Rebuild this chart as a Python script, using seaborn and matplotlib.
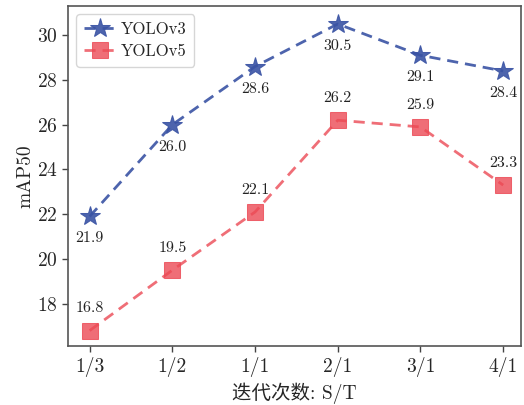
import matplotlib
matplotlib.use("Agg")
import matplotlib.pyplot as plt
import seaborn as sns
import pandas as pd
import numpy as np

ratios = ["1/3", "1/2", "1/1", "2/1", "3/1", "4/1"]
yolov3 = [21.9, 26.0, 28.6, 30.5, 29.1, 28.4]
yolov5 = [16.8, 19.5, 22.1, 26.2, 25.9, 23.3]

sns.set_theme(style="ticks")
plt.rcParams['font.family'] = ['cmr10', 'Noto Sans CJK SC', 'DejaVu Sans']
plt.rcParams['axes.formatter.use_mathtext'] = True
plt.rcParams['mathtext.fontset'] = 'cm'

idx = np.arange(len(ratios))
df = pd.DataFrame({
    "x": np.concatenate([idx, idx]),
    "mAP": yolov3 + yolov5,
    "model": ["YOLOv3"] * len(ratios) + ["YOLOv5"] * len(ratios),
})

fig, ax = plt.subplots(figsize=(5.24, 4.05), dpi=100)
blue = "#3a53a4"
red = "#ec4a55"

sns.lineplot(data=df[df.model == "YOLOv3"], x="x", y="mAP", ax=ax, color=blue,
             linestyle="--", linewidth=2.0, marker="*", markersize=15,
             markeredgecolor=blue, label="YOLOv3", alpha=0.9)
sns.lineplot(data=df[df.model == "YOLOv5"], x="x", y="mAP", ax=ax, color=red,
             linestyle="--", linewidth=2.0, marker="s", markersize=11,
             markeredgecolor=red, label="YOLOv5", alpha=0.8)
for line in ax.lines:
    line.set_dashes([4, 2.5])

for i, v in enumerate(yolov3):
    ax.annotate(f"{v:.1f}", (i, v), xytext=(0, -11), textcoords="offset points",
                ha="center", va="top", fontsize=11.5, color="#222222")
for i, v in enumerate(yolov5):
    ax.annotate(f"{v:.1f}", (i, v), xytext=(0, 11), textcoords="offset points",
                ha="center", va="bottom", fontsize=11.5, color="#222222")

ax.set_xticks(idx)
ax.set_xticklabels(ratios)
ax.set_xlim(-0.26, 5.22)
ax.set_ylim(16.1, 31.3)
ax.set_yticks([18, 20, 22, 24, 26, 28, 30])
ax.tick_params(labelsize=14, length=4, width=1, color="#444444")
ax.set_xlabel("迭代次数: S/T", fontsize=14)
ax.set_ylabel("mAP50", fontsize=14, labelpad=2)
for s in ax.spines.values():
    s.set_color("#555555")
    s.set_linewidth(1.2)
    s.set_visible(True)

leg = ax.legend(loc="upper left", fontsize=12, frameon=True, handlelength=1.9,
                borderpad=0.45, labelspacing=0.4, handletextpad=0.3)
leg.get_frame().set_edgecolor("#cccccc")

fig.subplots_adjust(left=0.13, right=0.995, top=0.985, bottom=0.145)
fig.savefig("out.png", dpi=100)
